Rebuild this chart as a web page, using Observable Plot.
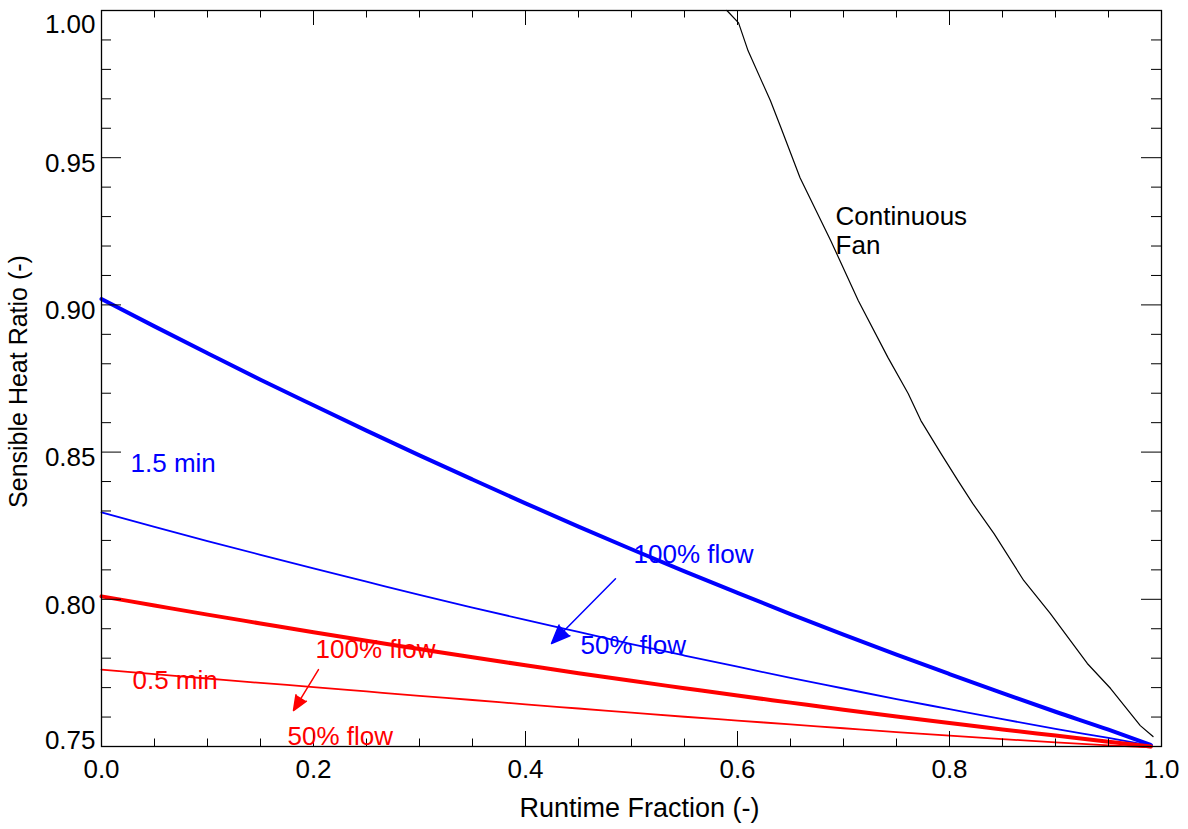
<!DOCTYPE html>
<html>
<head>
<meta charset="utf-8">
<script src="https://cdn.jsdelivr.net/npm/d3@7"></script>
<script src="https://cdn.jsdelivr.net/npm/@observablehq/plot@0.6"></script>
<style>
  html, body { margin: 0; padding: 0; background: #fff; }
  #chart svg { display: block; }
</style>
</head>
<body>
<div id="chart"></div>
<script>
// ---- data ----
const runtime = [0.00, 0.05, 0.10, 0.15, 0.20, 0.25, 0.30, 0.35, 0.40, 0.45, 0.50,
                 0.55, 0.60, 0.65, 0.70, 0.75, 0.80, 0.85, 0.90, 0.95, 0.99];
// 1.5 min, 100% flow (thick blue)
const shr15Full = [0.9020, 0.8927, 0.8836, 0.8746, 0.8659, 0.8573, 0.8489, 0.8407, 0.8326, 0.8247, 0.8170,
                   0.8095, 0.8022, 0.7950, 0.7880, 0.7812, 0.7746, 0.7681, 0.7618, 0.7557, 0.7505];
// 1.5 min, 50% flow (thin blue)
const shr15Half = [0.8295, 0.8246, 0.8198, 0.8151, 0.8105, 0.8060, 0.8015, 0.7972, 0.7930, 0.7889, 0.7848,
                   0.7809, 0.7771, 0.7733, 0.7697, 0.7661, 0.7627, 0.7593, 0.7560, 0.7529, 0.7503];
// 0.5 min, 100% flow (thick red)
const shr05Full = [0.8010, 0.7979, 0.7948, 0.7918, 0.7888, 0.7859, 0.7831, 0.7803, 0.7776, 0.7749, 0.7723,
                   0.7698, 0.7673, 0.7649, 0.7625, 0.7602, 0.7580, 0.7558, 0.7537, 0.7516, 0.7500];
// 0.5 min, 50% flow (thin red)
const shr05Half = [0.7761, 0.7746, 0.7731, 0.7716, 0.7702, 0.7687, 0.7672, 0.7658, 0.7643, 0.7629, 0.7615,
                   0.7601, 0.7588, 0.7575, 0.7562, 0.7549, 0.7537, 0.7525, 0.7514, 0.7504, 0.7497];
// continuous fan (black)
const fanRuntime = [0.590, 0.601, 0.610, 0.631, 0.641, 0.659, 0.688, 0.714, 0.742, 0.761, 0.773,
                    0.792, 0.808, 0.822, 0.842, 0.870, 0.895, 0.930, 0.952, 0.980, 0.992];
const fanShr     = [1.000, 0.9958, 0.9863, 0.9694, 0.9602, 0.9432, 0.9218, 0.9014, 0.8821, 0.8699, 0.8607,
                    0.8495, 0.8403, 0.8325, 0.8223, 0.8064, 0.7952, 0.7782, 0.7697, 0.7571, 0.7534];

// tick values
const xTickLabels = [0.0, 0.2, 0.4, 0.6, 0.8, 1.0];
const xMinorTicks = d3.range(0, 21).map(i => i * 0.05);
const yTickLabels = [0.75, 0.80, 0.85, 0.90, 0.95, 1.00];
const yMinorTicks = d3.range(0, 26).map(i => 0.75 + i * 0.01);

// annotations
const labelText = ["Continuous", "Fan", "1.5 min", "100% flow", "50% flow", "100% flow", "0.5 min", "50% flow"];
const labelX    = [0.6925, 0.6925, 0.0274, 0.5019, 0.4519, 0.2019, 0.0292, 0.1755];
const labelY    = [0.9301, 0.9202, 0.8462, 0.8150, 0.7844, 0.7830, 0.7725, 0.7532];
const labelColor = ["black", "black", "#0000ff", "#0000ff", "#0000ff", "#ff0000", "#ff0000", "#ff0000"];
const arrowFrom = [[0.4849, 0.8070], [0.2047, 0.7761]];
const arrowTo   = [[0.4245, 0.7850], [0.1811, 0.7622]];
const arrowColor = ["#0000ff", "#ff0000"];

const xTitle = "Runtime Fraction (-)";
const yTitle = "Sensible Heat Ratio (-)";

// ---- build ----
const series = [
  {y: shr15Full, stroke: "#0000ff", width: 4},
  {y: shr15Half, stroke: "#0000ff", width: 1.8},
  {y: shr05Full, stroke: "#ff0000", width: 4},
  {y: shr05Half, stroke: "#ff0000", width: 1.8}
];
const rows = (xs, ys) => xs.map((x, i) => ({x, y: ys[i]}));
const labels = labelText.map((t, i) => ({t, x: labelX[i], y: labelY[i], c: labelColor[i]}));
const arrows = arrowFrom.map((f, i) => ({x1: f[0], y1: f[1], x2: arrowTo[i][0], y2: arrowTo[i][1], c: arrowColor[i]}));

const W = 1188, H = 829, mL = 101, mR = 27, mT = 10, mB = 83;
const frameH = H - mT - mB, frameW = W - mL - mR;
const isMajorX = d => Math.abs(d * 5 - Math.round(d * 5)) < 1e-6;
const isMajorY = d => Math.abs(d * 20 - Math.round(d * 20)) < 1e-6;
const xMajLen = 15, xMinLen = 7.5, yMajLen = 20, yMinLen = 10;
const font = "'Liberation Sans', Arial, Helvetica, sans-serif";
const fs = 26;

const marks = [];
// data lines
for (const s of series) {
  marks.push(Plot.line(rows(runtime, s.y), {x: "x", y: "y", stroke: s.stroke, strokeWidth: s.width, strokeLinejoin: "round", curve: "monotone-x"}));
}
marks.push(Plot.line(rows(fanRuntime, fanShr), {x: "x", y: "y", stroke: "black", strokeWidth: 1.2}));

// inward ticks on all four sides
const xMaj = xMinorTicks.filter(isMajorX), xMin = xMinorTicks.filter(d => !isMajorX(d));
const yMaj = yMinorTicks.filter(isMajorY), yMin = yMinorTicks.filter(d => !isMajorY(d));
marks.push(
  Plot.tickX(xMaj, {x: d => d, stroke: "black", insetTop: frameH - xMajLen}),
  Plot.tickX(xMin, {x: d => d, stroke: "black", insetTop: frameH - xMinLen}),
  Plot.tickX(xMaj, {x: d => d, stroke: "black", insetBottom: frameH - xMajLen}),
  Plot.tickX(xMin, {x: d => d, stroke: "black", insetBottom: frameH - xMinLen}),
  Plot.tickY(yMaj, {y: d => d, stroke: "black", insetRight: frameW - yMajLen}),
  Plot.tickY(yMin, {y: d => d, stroke: "black", insetRight: frameW - yMinLen}),
  Plot.tickY(yMaj, {y: d => d, stroke: "black", insetLeft: frameW - yMajLen}),
  Plot.tickY(yMin, {y: d => d, stroke: "black", insetLeft: frameW - yMinLen}),
  Plot.frame({stroke: "black", strokeWidth: 1.3})
);

// tick labels
const f1 = d3.format(".1f"), f2 = d3.format(".2f");
marks.push(
  Plot.text(xTickLabels, {x: d => d, frameAnchor: "bottom", dy: 31, text: d => f1(d), fontSize: fs, fill: "black"}),
  Plot.text(yTickLabels.filter(d => d > 0.76 && d < 0.99), {y: d => d, frameAnchor: "left", dx: -6, dy: 6, textAnchor: "end", text: d => f2(d), fontSize: fs, fill: "black"}),
  Plot.text(yTickLabels.filter(d => d < 0.76), {y: d => d, frameAnchor: "left", dx: -6, dy: -5.5, textAnchor: "end", text: d => f2(d), fontSize: fs, fill: "black"}),
  Plot.text(yTickLabels.filter(d => d > 0.99), {y: d => d, frameAnchor: "left", dx: -6, dy: 14.5, textAnchor: "end", text: d => f2(d), fontSize: fs, fill: "black"})
);

// axis titles
marks.push(
  Plot.text([xTitle], {frameAnchor: "bottom", textAnchor: "middle", dx: 8, dy: 70, text: d => d, fontSize: 27, fill: "black"}),
  Plot.text([yTitle], {frameAnchor: "left", textAnchor: "middle", dx: -83, dy: 3, rotate: -90, text: d => d, fontSize: 25, fill: "black"})
);

// annotations
marks.push(
  Plot.text(labels, {x: "x", y: "y", text: "t", fill: "c", textAnchor: "start", fontSize: fs}),
  Plot.arrow(arrows, {x1: "x1", y1: "y1", x2: "x2", y2: "y2", stroke: "c", fill: "c", strokeWidth: 1.5, headLength: 20, headAngle: 45})
);

const chart = Plot.plot({
  width: W, height: H,
  marginLeft: mL, marginRight: mR, marginTop: mT, marginBottom: mB,
  style: {fontFamily: font, background: "white"},
  x: {domain: [0, 1], axis: null},
  y: {domain: [0.75, 1.0], axis: null},
  color: {type: "identity"},
  marks
});
document.getElementById("chart").appendChild(chart);
</script>
</body>
</html>
